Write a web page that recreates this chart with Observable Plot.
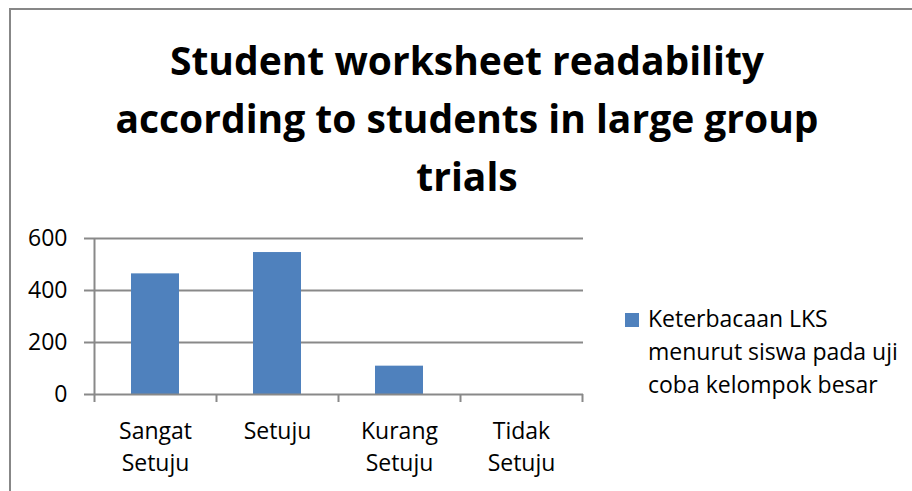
<!DOCTYPE html>
<html><head><meta charset="utf-8">
<script src="https://cdn.jsdelivr.net/npm/d3@7"></script>
<script src="https://cdn.jsdelivr.net/npm/@observablehq/plot@0.6"></script>
<style>
  body { margin: 0; background: #fff; }
  #chart { position: relative; width: 912px; height: 491px; overflow: hidden; background: #fff; font-family: "Open Sans", sans-serif; color: #000; }
  #frame { position: absolute; left: 9px; top: 8px; width: 960px; height: 560px; border-left: 2px solid #878787; border-top: 2px solid #878787; }
  #title { position: absolute; left: 0; top: 31px; width: 934px; text-align: center; font-weight: 700; font-size: 39px; line-height: 58px; }
  #plot { position: absolute; left: 0; top: 200px; }
  #legend { position: absolute; left: 625px; top: 302px; }
  #legend .sw { position: absolute; left: 0; top: 11px; width: 14px; height: 14px; }
  #legend .tx { position: absolute; left: 23px; top: 0; font-size: 23px; line-height: 33px; white-space: nowrap; }
</style>
</head><body>
<div id="chart">
  <div id="frame"></div>
  <div id="title"></div>
  <div id="plot"></div>
  <div id="legend"><div class="sw"></div><div class="tx"></div></div>
</div>
<script>
// ---- data ----
const titleLines = ["Student worksheet readability", "according to students in large group", "trials"];
const categories = ["Sangat Setuju", "Setuju", "Kurang Setuju", "Tidak Setuju"];
const values = [464, 546, 109, 0];
const yTicks = [0, 200, 400, 600];
const legendLines = ["Keterbacaan LKS", "menurut siswa pada uji", "coba kelompok besar"];

// ---- style ----
const BAR = "#4F81BD";
const GRID = "#898989";

const data = categories.map((c, i) => ({category: c, value: values[i]}));

document.getElementById("title").innerHTML = titleLines.map(t => `<div>${t}</div>`).join("");
document.querySelector("#legend .sw").style.background = BAR;
document.querySelector("#legend .tx").innerHTML = legendLines.map(t => `<div>${t}</div>`).join("");

function build(step) {
  const marks = [
    Plot.gridY(yTicks.slice(1), {stroke: GRID, strokeOpacity: 1, strokeWidth: 2}),
    Plot.barY(data, {x: "category", y: "value", fill: BAR}),
    Plot.axisY(yTicks, {tickSize: 8, tickPadding: 17, stroke: GRID, strokeWidth: 2, fill: "black", fontSize: 23}),
    Plot.axisX({tickSize: 0, tickPadding: 21, lineHeight: 1.41, fill: "black", fontSize: 23,
      tickFormat: d => d.replace(" ", "\n")}),
    Plot.ruleY([0], {stroke: GRID, strokeWidth: 2})
  ];
  if (step) {
    marks.push(Plot.ruleX(categories.slice(0, 1), {x: d => d, y1: yTicks[yTicks.length - 1], y2: 0, dx: -step / 2, insetBottom: -8, stroke: GRID, strokeWidth: 2}));
    marks.push(Plot.ruleX(categories.slice(1), {x: d => d, y1: 0, y2: 0, dx: -step / 2, insetBottom: -8, stroke: GRID, strokeWidth: 2}));
    marks.push(Plot.ruleX(categories.slice(-1), {x: d => d, y1: 0, y2: 0, dx: step / 2, insetBottom: -8, stroke: GRID, strokeWidth: 2}));
  }
  return Plot.plot({
    width: 600,
    height: 291,
    marginTop: 38,
    marginBottom: 97,
    marginLeft: 92,
    marginRight: 17,
    style: {fontFamily: "Open Sans, sans-serif", fontSize: "23px", color: "black", background: "transparent", overflow: "visible"},
    x: {domain: categories, paddingInner: 0.61, paddingOuter: 0.305, label: null},
    y: {domain: [0, 600], label: null},
    marks
  });
}

const first = build(0);
const step = first.scale("x").step;
document.getElementById("plot").appendChild(build(step));
</script></body></html>
